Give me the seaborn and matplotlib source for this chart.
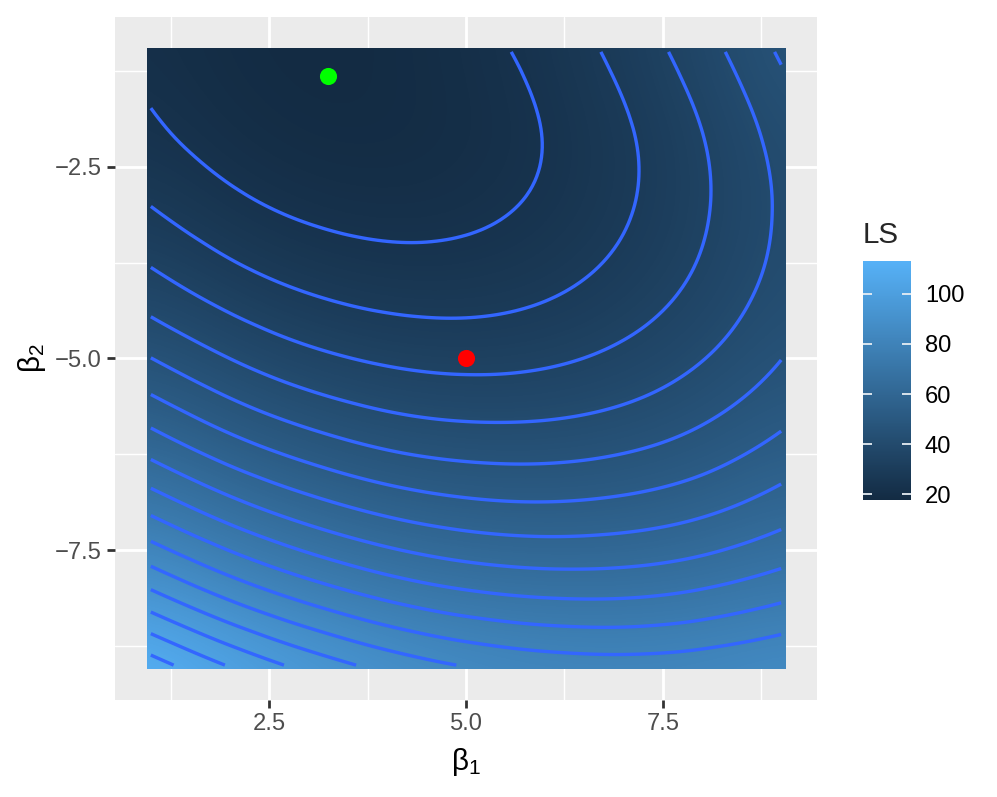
import numpy as np
import matplotlib
matplotlib.use("Agg")
import matplotlib.pyplot as plt
import matplotlib.tri as mtri
from matplotlib.colors import LinearSegmentedColormap
from matplotlib.patches import Rectangle
from matplotlib.ticker import FuncFormatter, MultipleLocator
import seaborn as sns

# grid of the LS surface (rows = beta2 from -9 up to -1)
beta1_grid = [1, 2, 3, 4, 5, 6, 7, 8, 9]
beta2_grid = [-9, -8, -7, -6, -5, -4, -3, -2, -1]
ls_rows = [
    [113.1, 103.9, 96.5, 90.7, 86.6, 84.2, 83.4, 84.4, 87.0],
    [92.5, 84.1, 77.5, 72.5, 69.2, 67.6, 67.6, 69.4, 72.8],
    [74.5, 66.9, 61.1, 56.9, 54.4, 53.6, 54.5, 57.0, 61.3],
    [59.1, 52.3, 47.3, 43.9, 42.3, 42.3, 43.9, 47.3, 52.4],
    [46.3, 40.4, 36.1, 33.6, 32.7, 33.5, 36.0, 40.2, 46.1],
    [36.1, 31.0, 27.6, 25.9, 25.8, 27.4, 30.7, 35.7, 42.4],
    [28.6, 24.3, 21.7, 20.8, 21.5, 23.9, 28.0, 33.8, 41.3],
    [23.7, 20.2, 18.4, 18.3, 19.8, 23.1, 28.0, 34.6, 42.9],
    [21.4, 18.7, 17.7, 18.4, 20.8, 24.8, 30.5, 37.9, 47.0],
]
contour_levels = [22.9, 28.7, 34.5, 40.4, 46.2, 52.0, 57.8, 63.7,
                  69.5, 75.3, 81.1, 87.0, 92.8, 98.6, 104.4, 110.3]
cbar_ticks = [20, 40, 60, 80, 100]

beta_hat = [3.25, -1.32]   # green point
beta_true = [5.0, -5.0]    # red point

sns.set_theme(style="darkgrid", rc={
    "axes.facecolor": "#EBEBEB",
    "grid.color": "white",
    "figure.facecolor": "white",
})
plt.rcParams["font.family"] = ["Liberation Sans", "DejaVu Sans"]
plt.rcParams["mathtext.default"] = "regular"

TICK_FS, TITLE_FS = 12, 15

Z = np.array(ls_rows)
B1, B2 = np.meshgrid(beta1_grid, beta2_grid)

# two triangles per grid cell, then a smooth refinement for the contours
nx = len(beta1_grid)
tris = []
for j in range(len(beta2_grid) - 1):
    for i in range(nx - 1):
        p = j * nx + i
        tris.append([p, p + 1, p + nx + 1])
        tris.append([p, p + nx + 1, p + nx])
tri = mtri.Triangulation(B1.ravel().astype(float), B2.ravel().astype(float), tris)
tri_fine, z_fine = mtri.UniformTriRefiner(tri).refine_field(Z.ravel(), subdiv=4)

gg_blue = LinearSegmentedColormap.from_list("gg", ["#132B43", "#56B1F7"])

W, H, DPI = 997, 797, 142.4
fig = plt.figure(figsize=(W / DPI, H / DPI), dpi=DPI)
ax = fig.add_axes([115 / W, 1 - 700 / H, (817 - 115) / W, (700 - 17) / H])

im = ax.imshow(Z, origin="lower", extent=[0.5, 9.5, -9.5, -0.5], cmap=gg_blue,
               vmin=Z.min(), vmax=Z.max(), interpolation="bicubic",
               interpolation_stage="data", aspect="auto", zorder=2)
im.set_clip_path(Rectangle((0.95, -9.05), 8.1, 8.1, transform=ax.transData))

ax.tricontour(tri_fine, z_fine, levels=contour_levels, colors="#3366FF",
              linewidths=1.7, zorder=3)

sns.scatterplot(x=[beta_hat[0]], y=[beta_hat[1]], color="#00FF00", s=75,
                linewidth=0, ax=ax, zorder=5)
sns.scatterplot(x=[beta_true[0]], y=[beta_true[1]], color="#FF0000", s=75,
                linewidth=0, ax=ax, zorder=5)

minus_fmt = FuncFormatter(lambda v, pos: f"{v:.1f}".replace("-", "\u2212"))

ax.set_xlim(0.545, 9.455)
ax.set_ylim(-9.455, -0.545)
ax.set_xticks([2.5, 5.0, 7.5])
ax.set_yticks([-7.5, -5.0, -2.5])
ax.xaxis.set_major_formatter(minus_fmt)
ax.yaxis.set_major_formatter(minus_fmt)
ax.xaxis.set_minor_locator(MultipleLocator(1.25))
ax.yaxis.set_minor_locator(MultipleLocator(1.25))
ax.grid(which="major", color="white", linewidth=1.42)
ax.grid(which="minor", color="white", linewidth=0.71)
ax.set_axisbelow(True)
ax.tick_params(which="major", length=3.8, width=1.4, color="#333333",
               labelcolor="#4D4D4D", labelsize=TICK_FS, pad=3.0,
               bottom=True, left=True)
ax.tick_params(which="minor", length=0)
for s in ax.spines.values():
    s.set_visible(False)

ax.set_xlabel(r"$\beta_1$", fontsize=TITLE_FS, labelpad=5.5, color="black")
ax.set_ylabel(r"$\beta_2$", fontsize=TITLE_FS, labelpad=3.5, color="black")

cax = fig.add_axes([863 / W, 1 - 500 / H, 48 / W, 239 / H])
cb = fig.colorbar(im, cax=cax, ticks=cbar_ticks)
cb.outline.set_visible(False)
cb.minorticks_off()
cax.grid(False)
cax.set_axisbelow(False)
cax.tick_params(which="major", direction="in", length=4.8, width=0.9,
                color="#E8EEF4", left=True, right=True, labelleft=False,
                labelright=True, labelsize=TICK_FS, labelcolor="black", pad=7)
fig.text(863 / W, 1 - 243 / H, "LS", fontsize=TITLE_FS, va="baseline", ha="left")

fig.savefig("out.png", dpi=DPI)
